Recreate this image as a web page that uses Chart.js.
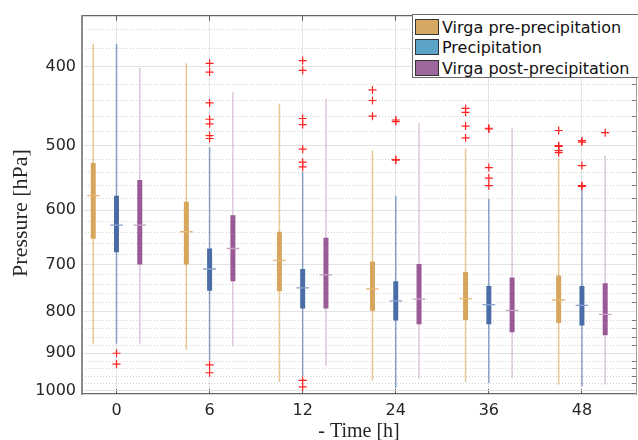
<!DOCTYPE html>
<html><head><meta charset="utf-8">
<script src="https://cdn.jsdelivr.net/npm/chart.js@4.4.0/dist/chart.umd.min.js"></script>
<style>
html,body{margin:0;padding:0;background:#fff;}
#wrap{position:relative;width:638px;height:440px;}
#legend{position:absolute;left:412px;top:14px;width:228px;height:64px;border:1px solid #6b6b6b;background:#fff;box-sizing:border-box;font-family:'DejaVu Sans';font-size:16px;color:#111;}
.item{position:absolute;left:2px;height:18px;display:flex;align-items:center;white-space:nowrap;}
.sw{width:24px;height:16px;border:1px solid #333;box-sizing:border-box;margin-right:3px;}
</style></head>
<body><div id="wrap"><canvas id="c" width="638" height="440"></canvas><div id="legend"></div></div>
<script>
// ---- data ----
const timeLabels = ['0','6','12','24','36','48'];
const seriesNames = ['Virga pre-precipitation','Precipitation','Virga post-precipitation'];
const yTickLabels = [400,500,600,700,800,900,1000];
const yMinorTicks = [360,380,420,440,460,480,520,540,560,580,620,640,660,680,720,740,760,780,820,840,860,880,920,940,960,980];

// Virga pre-precipitation (hPa)
const preWhiskerTop    = [375, 396, 444, 507, 504, 519];
const preQ1            = [525, 586, 638, 694, 715, 722];
const preMedian        = [576, 638, 692, 750, 771, 774];
const preQ3            = [651, 700, 755, 798, 819, 826];
const preWhiskerBottom = [876, 892, 976, 972, 976, 983];
const preOutliers      = [[], [], [], [427,440,460], [450,455,473,489], [479,500,501,507,510]];

// Precipitation (hPa)
const precWhiskerTop    = [375, 502, 538, 576, 581, 567];
const precQ1            = [576, 669, 709, 734, 744, 744];
const precMedian        = [626, 709, 748, 776, 784, 786];
const precQ3            = [676, 754, 793, 820, 829, 832];
const precWhiskerBottom = [876, 918, 960, 994, 979, 988];
const precOutliers      = [[900,928],[396,406,443,464,470,486,490,930,951],[393,404,463,471,505,524,531,972,990],[465,467,520,521],[476,477,532,548,560],[493,495,529,560,561]];

// Virga post-precipitation (hPa)
const postWhiskerTop    = [401, 430, 438, 469, 476, 514];
const postQ1            = [551, 609, 649, 699, 726, 738];
const postMedian        = [626, 669, 721, 772, 797, 806];
const postQ3            = [700, 734, 793, 829, 848, 855];
const postWhiskerBottom = [876, 882, 933, 968, 966, 983];
const postOutliers      = [[],[],[],[],[],[482]];

// ---- styles ----
const groupOffsets = [-0.25, 0, 0.25];
const boxColors     = ['#d7a65c','#4a6da8','#9a5a98'];
const whiskerColors = ['rgba(226,180,110,0.75)','rgba(110,140,190,0.8)','rgba(200,160,200,0.6)'];
const medianColors  = ['#e3b878','#86a2cc','#c8a2c6'];
const legendColors  = ['#d6a962','#5ca3c8','#9e689e'];
const medianHalf = 0.068;

const all = [
  {top:preWhiskerTop,q1:preQ1,med:preMedian,q3:preQ3,bot:preWhiskerBottom,out:preOutliers},
  {top:precWhiskerTop,q1:precQ1,med:precMedian,q3:precQ3,bot:precWhiskerBottom,out:precOutliers},
  {top:postWhiskerTop,q1:postQ1,med:postMedian,q3:postQ3,bot:postWhiskerBottom,out:postOutliers}
];

const whiskerSets=[], boxSets=[], medianSets=[], outlierSets=[];
all.forEach((s,k)=>{
  const wh=[], bx=[], md=[], ol=[];
  timeLabels.forEach((t,i)=>{
    const x = i+1+groupOffsets[k];
    wh.push({x,y:s.top[i]},{x,y:s.bot[i]},{x,y:null});
    bx.push({x,y:s.q1[i]},{x,y:s.q3[i]},{x,y:null});
    md.push({x:x-medianHalf,y:s.med[i]},{x:x+medianHalf,y:s.med[i]},{x,y:null});
    s.out[i].forEach(v=>ol.push({x,y:v}));
  });
  const base={type:'line',showLine:true,spanGaps:false,pointRadius:0,pointHoverRadius:0,fill:false,borderCapStyle:'butt'};
  whiskerSets.push(Object.assign({},base,{label:seriesNames[k]+' whisker',data:wh,borderColor:whiskerColors[k],borderWidth:1.5,order:4}));
  boxSets.push(Object.assign({},base,{label:seriesNames[k],data:bx,borderColor:boxColors[k],borderWidth:5,order:3}));
  medianSets.push(Object.assign({},base,{label:seriesNames[k]+' median',data:md,borderColor:medianColors[k],borderWidth:1.3,order:2}));
  outlierSets.push({type:'scatter',label:seriesNames[k]+' outliers',data:ol,showLine:false,pointStyle:'cross',pointRadius:4,pointBorderWidth:1.2,borderColor:'#ff2020',backgroundColor:'#ff2020',order:1});
});

// legend (HTML)
const lg=document.getElementById('legend');
const rowTops=[3,23,44];
seriesNames.forEach((n,k)=>{
  const d=document.createElement('div'); d.className='item'; d.style.top=rowTops[k]+'px';
  const sw=document.createElement('span'); sw.className='sw'; sw.style.background=legendColors[k];
  const tx=document.createElement('span'); tx.textContent=n;
  d.appendChild(sw); d.appendChild(tx); lg.appendChild(d);
});

const xMin=0.6292, xMax=6.581, yMin=346, yMax=1010;
const tickFont={family:'DejaVu Sans',size:16};
new Chart(document.getElementById('c'),{
  type:'scatter',
  data:{datasets:[...whiskerSets,...boxSets,...medianSets,...outlierSets]},
  options:{
    responsive:false,animation:false,devicePixelRatio:1,
    layout:{padding:0,autoPadding:false},
    plugins:{legend:{display:false},tooltip:{enabled:false}},
    scales:{
      x:{type:'linear',position:'bottom',min:xMin,max:xMax,
        afterBuildTicks:s=>{s.ticks=timeLabels.map((t,i)=>({value:i+1}));},
        afterFit:s=>{s.height=46;},
        ticks:{callback:(v,i)=>timeLabels[i],font:tickFont,color:'#262626',padding:12,autoSkip:false,maxRotation:0},
        grid:{color:'#e4e4e4',lineWidth:1,drawTicks:true,tickLength:-5,tickColor:'#555'},
        border:{color:'#666',width:1.2},
        title:{display:true,text:'- Time [h]',font:{family:'Liberation Serif',size:20},color:'#262626',padding:{top:0,bottom:-4}}
      },
      x2:{type:'linear',position:'top',min:xMin,max:xMax,
        afterBuildTicks:s=>{s.ticks=timeLabels.map((t,i)=>({value:i+1}));},
        afterFit:s=>{s.height=15;},
        ticks:{display:false},grid:{display:true,drawOnChartArea:false,drawTicks:true,tickLength:-5,tickColor:'#555'},
        border:{color:'#666',width:1.2}
      },
      y:{type:'logarithmic',position:'left',reverse:true,min:yMin,max:yMax,
        afterBuildTicks:s=>{s.ticks=yTickLabels.map(v=>({value:v}));},
        afterFit:s=>{s.width=82;},
        ticks:{callback:(v,i)=>String(yTickLabels[i]),font:tickFont,color:'#262626',padding:6,autoSkip:false},
        grid:{color:'#e2e2e2',lineWidth:1,drawTicks:false},
        border:{color:'#8a8a8a',width:2},
        title:{display:true,text:'Pressure [hPa]   ',font:{family:'Liberation Serif',size:22},color:'#262626',padding:{top:8,bottom:0}}
      },
      y2:{type:'logarithmic',position:'right',reverse:true,min:yMin,max:yMax,
        afterBuildTicks:s=>{s.ticks=yMinorTicks.map(v=>({value:v}));},
        afterFit:s=>{s.width=2;},
        ticks:{display:false},
        grid:{color:'#d2d2d2',lineWidth:1,drawTicks:true,tickLength:-4,tickColor:'#777'},
        border:{color:'#999',width:1,dash:[1,2]}
      }
    }
  }
});
</script>
</body></html>
